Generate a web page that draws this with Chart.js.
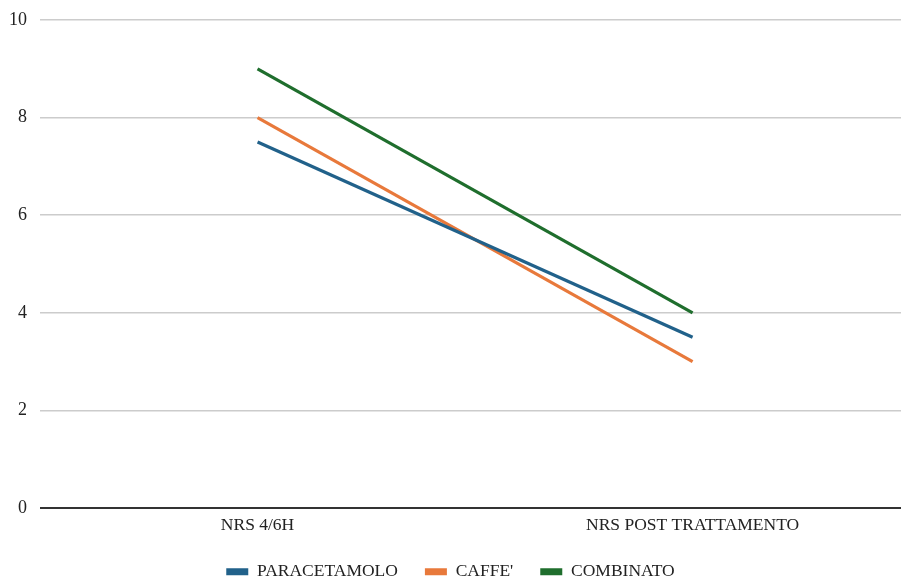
<!DOCTYPE html>
<html>
<head>
<meta charset="utf-8">
<script src="https://cdn.jsdelivr.net/npm/chart.js@4/dist/chart.umd.min.js"></script>
<style>
  html, body { margin: 0; padding: 0; background: #fff; }
  #wrap { width: 901px; height: 579px; }
</style>
</head>
<body>
<div id="wrap"><canvas id="chart" width="901" height="579"></canvas></div>
<script>
// dati del grafico
const categories = ['NRS 4/6H', 'NRS POST TRATTAMENTO'];
const paracetamolo = [7.5, 3.5];
const caffe = [8, 3];
const combinato = [9, 4];
const yTicks = [0, 2, 4, 6, 8, 10];

const FONT = "'Liberation Serif', 'Times New Roman', serif";

function points(values) {
    return values.map((v, i) => ({ x: i, y: v }));
}

// legenda più bassa di quella standard (il padding vale anche in orizzontale)
const legendHeightFix = {
    id: 'legendHeightFix',
    beforeLayout(chart) {
        const legend = chart.legend;
        if (legend && !legend._patched) {
            const origFit = legend.fit;
            legend.fit = function () {
                origFit.call(this);
                this.height = 43;
            };
            legend._patched = true;
        }
    }
};

const ctx = document.getElementById('chart').getContext('2d');
new Chart(ctx, {
    type: 'line',
    data: {
        datasets: [
            { label: 'PARACETAMOLO', data: points(paracetamolo), borderColor: '#21618a', backgroundColor: '#21618a' },
            { label: "CAFFE'", data: points(caffe), borderColor: '#e8793b', backgroundColor: '#e8793b' },
            { label: 'COMBINATO', data: points(combinato), borderColor: '#1f6e2d', backgroundColor: '#1f6e2d' }
        ]
    },
    plugins: [legendHeightFix],
    options: {
        responsive: false,
        animation: false,
        layout: { padding: { top: 20, right: 0, bottom: 0, left: 0 } },
        elements: {
            line: { borderWidth: 3.2, tension: 0, fill: false },
            point: { radius: 0, hoverRadius: 0 }
        },
        scales: {
            x: {
                type: 'linear',
                min: -0.5,
                max: 1.479,
                grid: { display: false },
                border: { display: false },
                afterBuildTicks: (scale) => {
                    scale.ticks = categories.map((c, i) => ({ value: i }));
                },
                afterFit: (scale) => { scale.height = 28; },
                ticks: {
                    callback: (v) => categories[v],
                    font: { family: FONT, size: 17.5 },
                    color: '#222',
                    padding: -1,
                    maxRotation: 0
                }
            },
            y: {
                min: 0,
                max: 10,
                afterBuildTicks: (scale) => {
                    scale.ticks = yTicks.map(v => ({ value: v }));
                },
                afterFit: (scale) => {
                    scale.width = 40;
                    scale.paddingTop = 0;
                },
                grid: {
                    color: (c) => c.tick && c.tick.value === 0 ? '#333' : '#cccccc',
                    lineWidth: (c) => c.tick && c.tick.value === 0 ? 2 : 1.5,
                    drawTicks: false
                },
                border: { display: false },
                ticks: {
                    font: { family: FONT, size: 18 },
                    color: '#222',
                    padding: 13
                }
            }
        },
        plugins: {
            tooltip: { enabled: false },
            legend: {
                position: 'bottom',
                labels: {
                    font: { family: FONT, size: 17.5 },
                    color: '#222',
                    boxWidth: 22,
                    boxHeight: 7,
                    padding: 27,
                    generateLabels: (chart) =>
                        Chart.defaults.plugins.legend.labels.generateLabels(chart)
                            .map(l => Object.assign(l, { lineWidth: 0 }))
                }
            }
        }
    }
});
</script>
</body>
</html>
